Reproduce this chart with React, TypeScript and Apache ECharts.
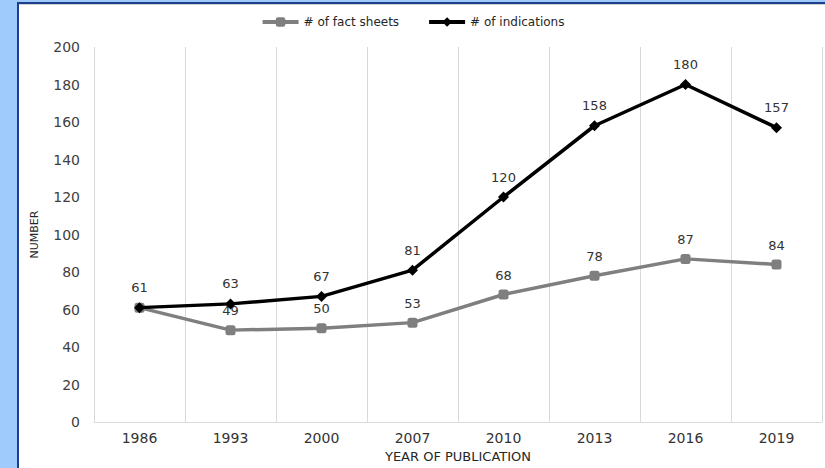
import React, { useEffect, useRef } from "react";
import * as echarts from "echarts";

const years = ["1986", "1993", "2000", "2007", "2010", "2013", "2016", "2019"];
const factSheets = [61, 49, 50, 53, 68, 78, 87, 84];
const indications = [61, 63, 67, 81, 120, 158, 180, 157];
const seriesNames = ["# of fact sheets", "# of indications"];

const FONT = "'DejaVu Sans', 'Liberation Sans', Arial, sans-serif";

export default function App() {
  const ref = useRef<HTMLDivElement>(null);
  useEffect(() => {
    document.body.style.margin = "0";
    const chart = echarts.init(ref.current!, null, { renderer: "svg" });
    const labelStyle = {
      show: true,
      position: "top" as const,
      distance: 8,
      color: "#333333",
      fontSize: 13,
      fontFamily: FONT,
    };
    chart.setOption({
      animation: false,
      textStyle: { fontFamily: FONT },
      legend: {
        top: 11,
        left: "center",
        itemWidth: 36,
        itemHeight: 12,
        itemGap: 28,
        lineStyle: { width: 4 },
        textStyle: { color: "#262626", fontSize: 12, fontFamily: FONT },
        data: seriesNames,
      },
      grid: { left: 94, right: 3, top: 47, bottom: 44, containLabel: false },
      xAxis: {
        type: "category",
        data: years,
        boundaryGap: true,
        name: "YEAR OF PUBLICATION",
        nameLocation: "middle",
        nameGap: 28,
        nameTextStyle: { color: "#262626", fontSize: 13, fontFamily: FONT },
        axisLine: { lineStyle: { color: "#d9d9d9", width: 1 } },
        axisTick: { show: false },
        axisLabel: { color: "#333333", fontSize: 14, margin: 9, fontFamily: FONT },
        splitLine: { show: true, lineStyle: { color: "#d9d9d9", width: 1 } },
      },
      yAxis: {
        type: "value",
        min: 0,
        max: 200,
        interval: 20,
        name: "NUMBER",
        nameLocation: "middle",
        nameGap: 54,
        nameRotate: 90,
        nameTextStyle: { color: "#262626", fontSize: 11, fontFamily: FONT },
        axisLine: { show: false },
        axisTick: { show: false },
        splitLine: { show: false },
        axisLabel: { color: "#404040", fontSize: 14, margin: 14, fontFamily: FONT },
      },
      series: [
        {
          name: seriesNames[0],
          type: "line",
          data: factSheets.map((v, i) => (i === 0 ? { value: v, label: { show: false } } : v)),
          symbol: "roundRect",
          symbolSize: 10,
          lineStyle: { color: "#7f7f7f", width: 3.5 },
          itemStyle: { color: "#7f7f7f" },
          label: labelStyle,
          z: 2,
        },
        {
          name: seriesNames[1],
          type: "line",
          data: indications,
          symbol: "diamond",
          symbolSize: 11,
          lineStyle: { color: "#000000", width: 3.5 },
          itemStyle: { color: "#000000" },
          label: labelStyle,
          z: 3,
        },
      ],
    });
    return () => chart.dispose();
  }, []);

  return (
    <div style={{ position: "fixed", left: 0, top: 0, width: 825, height: 468, background: "#9ecbfb", overflow: "hidden" }}>
      <div
        style={{
          position: "absolute",
          left: 17,
          top: 2,
          width: 808,
          height: 466,
          background: "#ffffff",
          borderLeft: "2px solid #1d3f8e",
          borderTop: "2px solid #1d3f8e",
          boxSizing: "border-box",
        }}
      >
        <div style={{ height: 1, background: "#d0d0d0" }} />
      </div>
      <div ref={ref} style={{ position: "absolute", left: 0, top: 0, width: 825, height: 468 }} />
    </div>
  );
}
